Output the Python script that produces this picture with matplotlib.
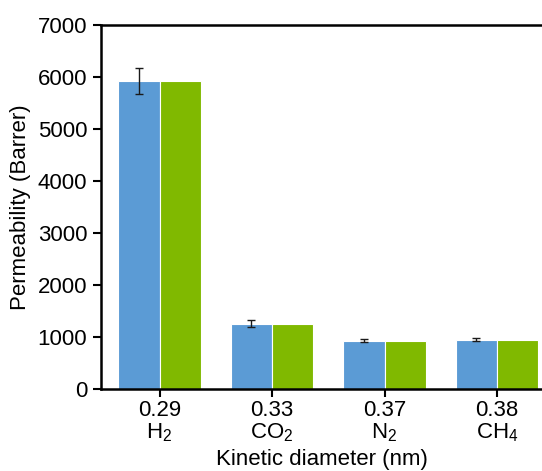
import numpy as np
import matplotlib.pyplot as plt

plt.rcParams['font.family'] = ['Liberation Sans', 'DejaVu Sans']
plt.rcParams['mathtext.fontset'] = 'custom'
plt.rcParams['mathtext.rm'] = 'Liberation Sans'
plt.rcParams['mathtext.it'] = 'Liberation Sans'

## Data
diameters = ['0.29', '0.33', '0.37', '0.38']
gases = ['H$_2$', 'CO$_2$', 'N$_2$', 'CH$_4$']
perm_blue = [5920, 1255, 925, 950]
perm_blue_err = [250, 70, 30, 25]
perm_green = [5920, 1255, 925, 950]

x = np.arange(len(gases))
width = 0.365

fig = plt.figure(figsize=(5.42, 4.71), dpi=100)
ax = fig.add_axes([101/542, 1 - 389/471, 1 - 101/542, 364/471])

ax.bar(x - width/2, perm_blue, width, color='#5b9bd5', edgecolor='white', linewidth=0.8,
       yerr=perm_blue_err, capsize=3, error_kw=dict(ecolor='#1a1a1a', elinewidth=1, capthick=1))
ax.bar(x + width/2, perm_green, width, color='#80b900', edgecolor='white', linewidth=0.8)

ax.set_xlim(-0.52, 3.4)
ax.set_ylim(0, 7000)
ax.set_yticks(np.arange(0, 7001, 1000))
ax.set_xticks(x)
ax.set_xticklabels([d + '\n' + g for d, g in zip(diameters, gases)], fontsize=16, linespacing=1.0)
ax.tick_params(axis='y', labelsize=16, width=1.5, length=6, direction='out', pad=4)
ax.tick_params(axis='x', width=1.5, length=6, direction='out', pad=2)

for s in ['left', 'bottom', 'top']:
    ax.spines[s].set_linewidth(1.8)
ax.spines['right'].set_visible(False)

ax.set_ylabel('Permeability (Barrer)', fontsize=16, labelpad=5)
ax.set_xlabel('Kinetic diameter (nm)', fontsize=16, labelpad=4)

fig.savefig('out.png', dpi=100)
